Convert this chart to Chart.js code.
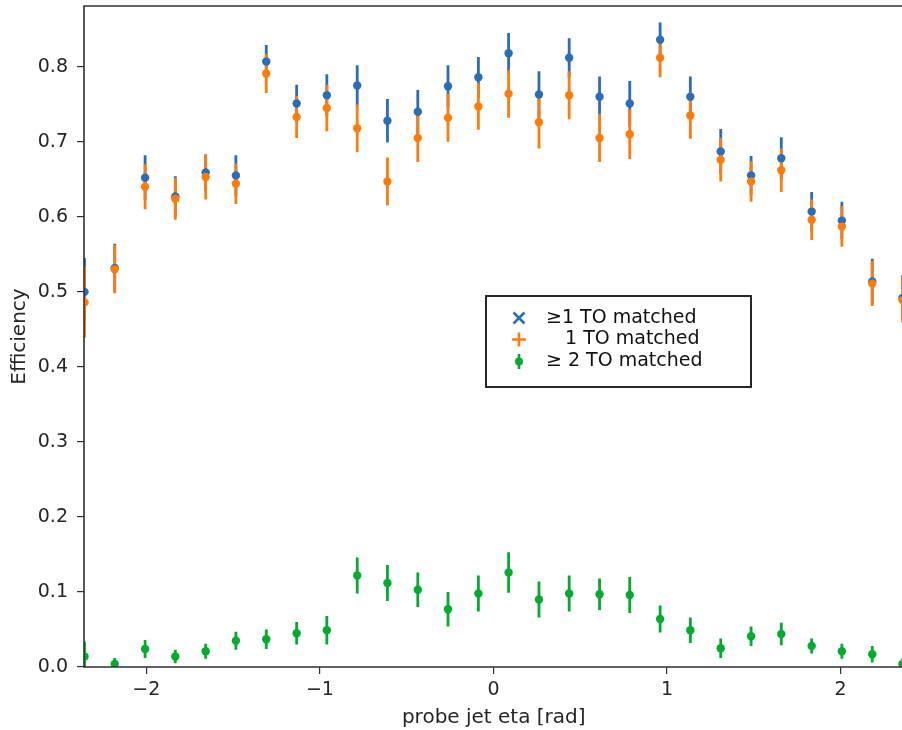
<!DOCTYPE html>
<html><head><meta charset="utf-8">
<script src="https://cdn.jsdelivr.net/npm/chart.js@4.4.0/dist/chart.umd.min.js"></script>
<style>
html,body{margin:0;padding:0;background:#fff;overflow:hidden;}
#wrap{position:relative;width:902px;height:730px;overflow:hidden;}
canvas{display:block;}
</style>
</head><body>
<div id="wrap"><canvas id="c" width="906" height="730"></canvas></div>
<script>
// eta bin centres [rad]
const etaBins = [-2.356,-2.182,-2.007,-1.833,-1.658,-1.484,-1.309,-1.134,-0.960,-0.785,-0.611,-0.436,-0.262,-0.087,0.087,0.262,0.436,0.611,0.785,0.960,1.134,1.309,1.484,1.658,1.833,2.007,2.182,2.356];
// >=1 TO matched
const effGe1 = [0.500,0.532,0.652,0.627,0.659,0.655,0.807,0.751,0.762,0.775,0.728,0.740,0.774,0.786,0.818,0.763,0.812,0.760,0.751,0.836,0.760,0.687,0.655,0.678,0.607,0.595,0.514,0.492];
const errGe1 = [0.045,0.032,0.030,0.027,0.024,0.027,0.022,0.025,0.028,0.027,0.029,0.029,0.028,0.027,0.027,0.031,0.026,0.027,0.030,0.023,0.027,0.030,0.026,0.028,0.026,0.025,0.030,0.030];
// exactly 1 TO matched
const eff1 = [0.486,0.530,0.640,0.624,0.653,0.644,0.791,0.733,0.745,0.718,0.647,0.705,0.732,0.747,0.764,0.726,0.762,0.705,0.710,0.812,0.735,0.676,0.647,0.662,0.596,0.587,0.511,0.489];
const err1 = [0.047,0.032,0.030,0.028,0.030,0.027,0.026,0.028,0.031,0.032,0.032,0.032,0.032,0.031,0.032,0.035,0.032,0.032,0.033,0.026,0.031,0.029,0.027,0.029,0.027,0.027,0.030,0.030];
// >=2 TO matched
const effGe2 = [0.014,0.004,0.024,0.014,0.021,0.035,0.037,0.045,0.049,0.122,0.112,0.103,0.077,0.098,0.126,0.090,0.098,0.097,0.096,0.064,0.049,0.025,0.041,0.044,0.028,0.021,0.017,0.004];
const errGe2 = [0.020,0.008,0.012,0.009,0.010,0.012,0.013,0.015,0.019,0.024,0.024,0.023,0.023,0.024,0.027,0.024,0.024,0.021,0.024,0.018,0.017,0.013,0.013,0.015,0.010,0.010,0.011,0.007];

const xTicks = [-2,-1,0,1,2];
const yTicks = [0.0,0.1,0.2,0.3,0.4,0.5,0.6,0.7,0.8];
const legendLabels = ['\u22651 TO matched','1 TO matched','\u2265 2 TO matched'];
const xTitle = 'probe jet eta [rad]';
const yTitle = 'Efficiency';

const BLUE = '#2c6db8', ORANGE = '#ff7c0a', GREEN = '#03ab2e';
const FONT = 'DejaVu Sans';
const TXT = '#262626';

function pts(ys){ return etaBins.map((x,i)=>({x:x,y:ys[i]})); }

const errorBars = {
  id:'errorBars',
  beforeDatasetsDraw(chart){
    const {ctx, chartArea:a, scales:{x,y}} = chart;
    ctx.save();
    ctx.beginPath(); ctx.rect(a.left,a.top,a.right-a.left,a.bottom-a.top); ctx.clip();
    ctx.lineWidth = 2.8; ctx.lineCap = 'butt';
    const sets = [[effGe1,errGe1,BLUE],[eff1,err1,ORANGE],[effGe2,errGe2,GREEN]];
    sets.forEach(([v,e,c])=>{
      ctx.strokeStyle = c;
      etaBins.forEach((xv,i)=>{
        const px = x.getPixelForValue(xv);
        ctx.beginPath();
        ctx.moveTo(px, y.getPixelForValue(v[i]-e[i]));
        ctx.lineTo(px, y.getPixelForValue(v[i]+e[i]));
        ctx.stroke();
      });
    });
    ctx.restore();
  }
};

const frame = {
  id:'frame',
  afterDatasetsDraw(chart){
    const {ctx, chartArea:a} = chart;
    ctx.save();
    ctx.strokeStyle = '#303030'; ctx.lineWidth = 1.6;
    ctx.beginPath();
    ctx.moveTo(a.left, a.bottom); ctx.lineTo(a.left, a.top); ctx.lineTo(a.right, a.top);
    ctx.lineTo(a.right, a.bottom); ctx.closePath();
    ctx.stroke();
    ctx.restore();
  },
  afterDraw(chart){
    const ctx = chart.ctx;
    ctx.save();
    // legend box
    const bx=486, by=296, bw=265, bh=91;
    ctx.fillStyle='#fff'; ctx.fillRect(bx,by,bw,bh);
    ctx.strokeStyle='#111'; ctx.lineWidth=1.8; ctx.strokeRect(bx,by,bw,bh);
    const sx=519, rows=[318,339.5,361];
    // blue x
    ctx.strokeStyle=BLUE; ctx.lineWidth=2.6;
    ctx.beginPath(); ctx.moveTo(sx-5.5,rows[0]-5.5); ctx.lineTo(sx+5.5,rows[0]+5.5);
    ctx.moveTo(sx+5.5,rows[0]-5.5); ctx.lineTo(sx-5.5,rows[0]+5.5); ctx.stroke();
    // orange +
    ctx.strokeStyle=ORANGE;
    ctx.beginPath(); ctx.moveTo(sx-7,rows[1]); ctx.lineTo(sx+7,rows[1]);
    ctx.moveTo(sx,rows[1]-7); ctx.lineTo(sx,rows[1]+7); ctx.stroke();
    // green errorbar + dot
    ctx.strokeStyle=GREEN; ctx.fillStyle=GREEN;
    ctx.beginPath(); ctx.moveTo(sx,rows[2]-7); ctx.lineTo(sx,rows[2]+8); ctx.stroke();
    ctx.beginPath(); ctx.arc(sx,rows[2]+0.5,4,0,Math.PI*2); ctx.fill();
    // texts
    ctx.fillStyle='#111'; ctx.font='19px "'+FONT+'"'; ctx.textBaseline='middle'; ctx.textAlign='left';
    ctx.fillText(legendLabels[0],546,rows[0]);
    ctx.fillText(legendLabels[1],565,rows[1]);
    ctx.fillText(legendLabels[2],546,rows[2]);
    ctx.restore();
  }
};

const common = {showLine:false, pointRadius:4.2, pointHoverRadius:4.2, borderWidth:0, pointBorderWidth:0, clip:0};

new Chart(document.getElementById('c'), {
  type:'scatter',
  data:{datasets:[
    Object.assign({label:legendLabels[0], data:pts(effGe1), backgroundColor:BLUE, borderColor:BLUE, order:2}, common),
    Object.assign({label:legendLabels[1], data:pts(eff1), backgroundColor:ORANGE, borderColor:ORANGE, order:1}, common),
    Object.assign({label:legendLabels[2], data:pts(effGe2), backgroundColor:GREEN, borderColor:GREEN, order:0}, common)
  ]},
  options:{
    responsive:false, animation:false, devicePixelRatio:1,
    layout:{autoPadding:false, padding:{top:6,right:2.5,left:0,bottom:0}},
    plugins:{legend:{display:false}, tooltip:{enabled:false}},
    scales:{
      x:{type:'linear', min:-2.359, max:2.362,
        afterBuildTicks(s){ s.ticks = xTicks.map(v=>({value:v})); },
        afterFit(s){ s.height=63; s.paddingLeft=0; s.paddingRight=0; },
        grid:{display:true, drawOnChartArea:false, drawTicks:true, tickLength:7, color:'#303030', lineWidth:1.2},
        border:{display:false},
        ticks:{font:{family:FONT,size:19}, color:TXT, padding:5, maxRotation:0, autoSkip:false,
          callback:v=> (v<0?'\u2212':'')+Math.abs(v)},
        title:{display:true, text:xTitle, font:{family:FONT,size:20}, color:TXT, padding:{top:0,bottom:0}}
      },
      y:{type:'linear', min:0, max:0.881,
        afterBuildTicks(s){ s.ticks = yTicks.map(v=>({value:v})); },
        afterFit(s){ s.width=84; s.paddingTop=0; s.paddingBottom=0; },
        grid:{display:true, drawOnChartArea:false, drawTicks:true, tickLength:7, color:'#303030', lineWidth:1.2},
        border:{display:false},
        ticks:{font:{family:FONT,size:19}, color:TXT, padding:9, autoSkip:false,
          callback:v=> Number(v).toFixed(1)},
        title:{display:true, text:yTitle, font:{family:FONT,size:20}, color:TXT, padding:{top:8,bottom:0}}
      }
    }
  },
  plugins:[errorBars, frame]
});
</script>
</body></html>
